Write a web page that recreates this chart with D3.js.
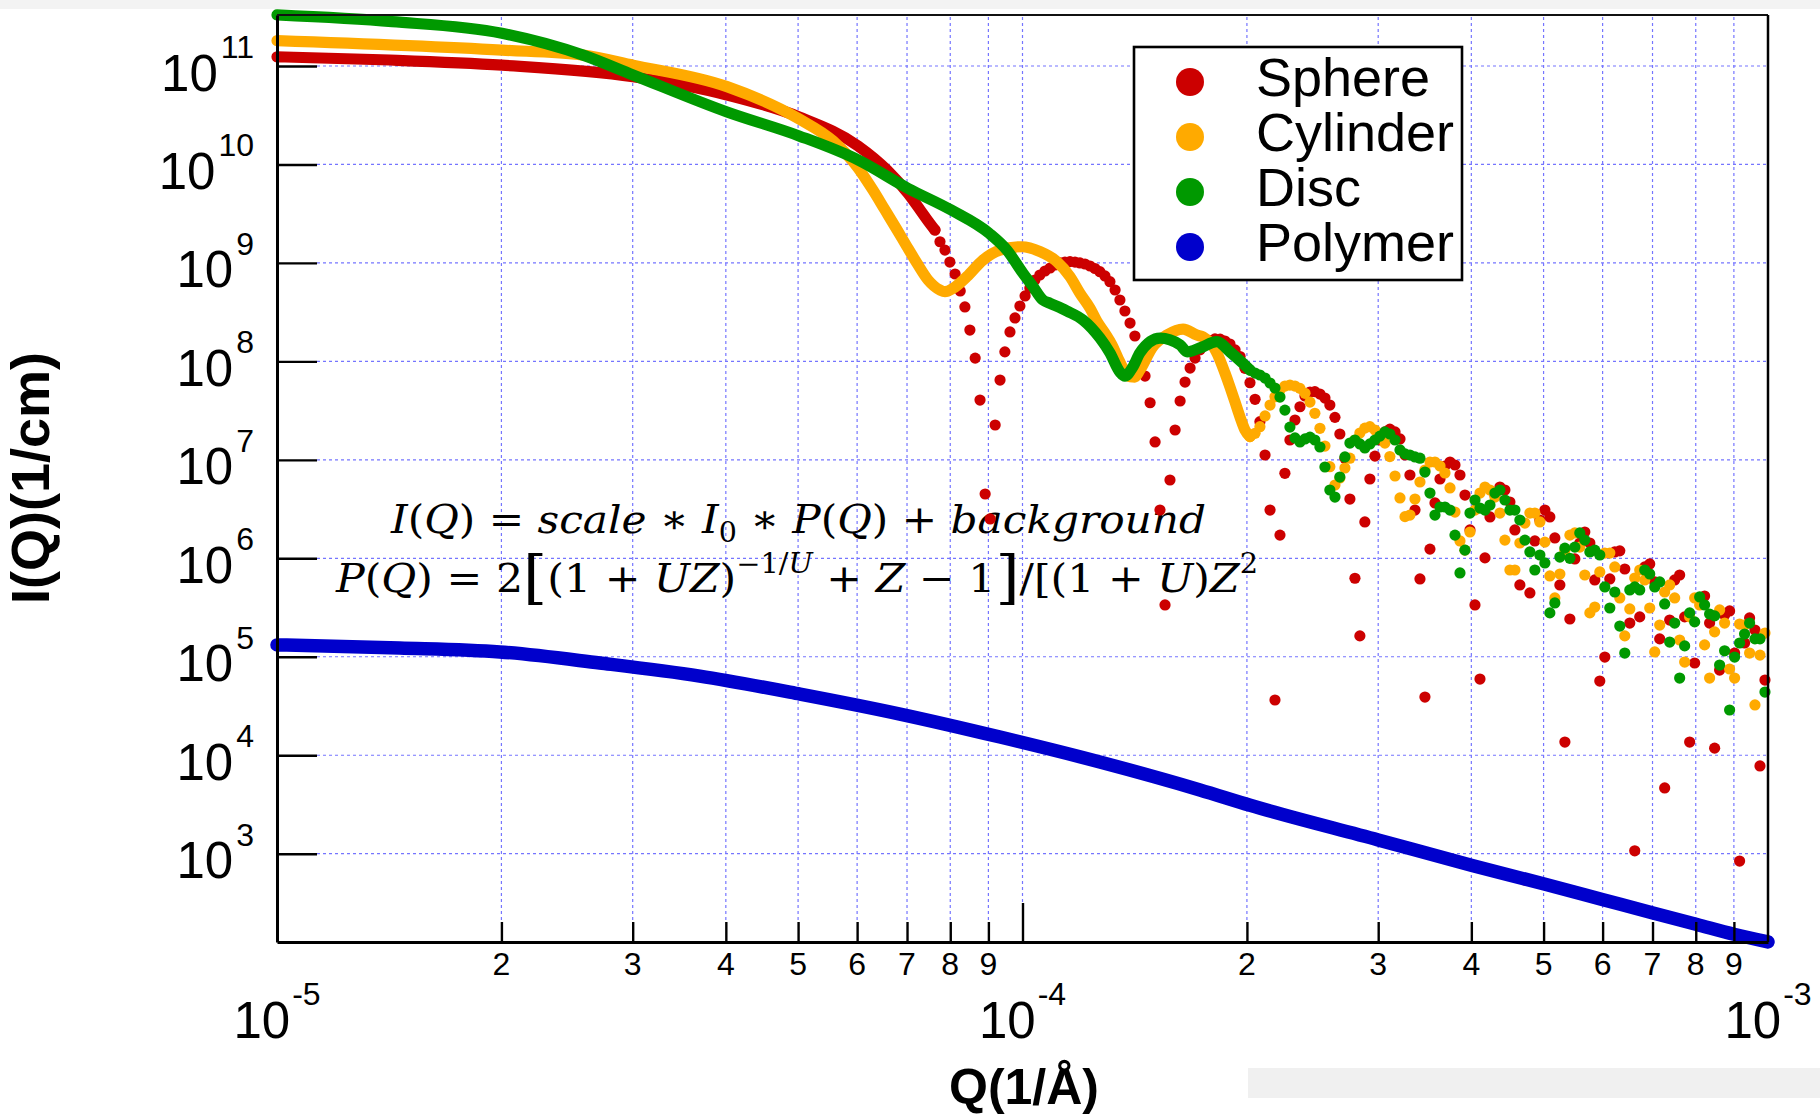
<!DOCTYPE html>
<html><head><meta charset="utf-8">
<script src="https://cdn.jsdelivr.net/npm/d3@7"></script>
<style>body{margin:0;background:#fff}text{font-family:"Liberation Sans",Arial,sans-serif}</style>
</head><body>
<script>
// ---------------- DATA ----------------
const seriesNames = ["Sphere", "Cylinder", "Disc", "Polymer"];
const seriesColors = ["#cc0000", "#ffaa00", "#009900", "#0000cc"];

const yTicks = [1e3, 1e4, 1e5, 1e6, 1e7, 1e8, 1e9, 1e10, 1e11];
const yTickSup = ["3", "4", "5", "6", "7", "8", "9", "10", "11"];
const xMajorTicks = [1e-5, 1e-4, 1e-3];
const xMajorSup = ["-5", "-4", "-3"];
const xMinorTicks = [2e-5,3e-5,4e-5,5e-5,6e-5,7e-5,8e-5,9e-5,2e-4,3e-4,4e-4,5e-4,6e-4,7e-4,8e-4,9e-4];
const xMinorLabels = ["2","3","4","5","6","7","8","9","2","3","4","5","6","7","8","9"];

// low-Q parts where the dots merge into a continuous band
const sphereCurveQ = [1e-5,1.418e-5,2.003e-5,3.003e-5,4.015e-5,5.015e-5,6.018e-5,6.58e-5,7.02e-5,7.29e-5,7.51e-5,7.63e-5];
const sphereCurveI = [1.24e11,1.15e11,1.02e11,7.79e10,5.08e10,3.04e10,1.54e10,8.78e9,5.09e9,3.45e9,2.52e9,2.16e9];

const cylinderCurveQ = [1e-5,2.003e-5,2.574e-5,3.003e-5,4.015e-5,5.015e-5,5.57e-5,6.02e-5,6.30e-5,6.54e-5,6.79e-5,7.00e-5,7.22e-5,7.47e-5,7.75e-5,7.87e-5,8.07e-5,8.42e-5,8.85e-5,9.33e-5,9.98e-5,1.056e-4,1.112e-4,1.158e-4,1.194e-4,1.232e-4,1.259e-4,1.290e-4,1.318e-4,1.343e-4,1.364e-4,1.394e-4,1.415e-4,1.437e-4,1.496e-4,1.562e-4,1.642e-4,1.714e-4,1.746e-4,1.823e-4,1.869e-4,1.898e-4,1.928e-4,1.958e-4,1.988e-4,2.019e-4];
const cylinderCurveI = [1.81e11,1.45e11,1.29e11,1.02e11,6.17e10,2.90e10,1.73e10,9.20e9,5.50e9,3.45e9,2.16e9,1.46e9,9.92e8,6.71e8,5.31e8,5.10e8,5.53e8,7.25e8,1.07e9,1.35e9,1.46e9,1.30e9,1.03e9,7.25e8,4.92e8,3.46e8,2.53e8,1.93e8,1.47e8,1.08e8,8.50e7,6.98e7,6.93e7,8.17e7,1.41e8,1.85e8,2.13e8,1.85e8,1.77e8,1.22e8,7.61e7,5.49e7,3.86e7,2.72e7,2.01e7,1.72e7];

const discCurveQ = [1e-5,1.427e-5,2.003e-5,2.574e-5,3.003e-5,4.015e-5,5.015e-5,6.02e-5,7.02e-5,8.02e-5,9.02e-5,9.53e-5,1.0015e-4,1.033e-4,1.065e-4,1.089e-4,1.147e-4,1.206e-4,1.27e-4,1.31e-4,1.351e-4,1.372e-4,1.406e-4,1.437e-4,1.529e-4,1.627e-4,1.663e-4,1.730e-4,1.823e-4,1.898e-4,1.976e-4,2.019e-4];
const discCurveI = [3.30e11,2.82e11,2.15e11,1.29e11,8.11e10,3.41e10,1.95e10,1.11e10,5.72e9,3.45e9,2.00e9,1.35e9,7.85e8,5.74e8,4.20e8,3.89e8,3.25e8,2.63e8,1.73e8,1.22e8,7.79e7,7.10e7,8.76e7,1.22e8,1.72e8,1.47e8,1.25e8,1.37e8,1.59e8,1.25e8,9.55e7,8.17e7];

const polymerQ = [1e-5,1.46e-5,1.99e-5,2.71e-5,3.69e-5,5.03e-5,6.85e-5,9.33e-5,1.27e-4,1.73e-4,2.02e-4,3.0e-4,4.01e-4,5.01e-4,6.01e-4,7.01e-4,8.03e-4,9.0e-4,1e-3];
const polymerI = [1.32e5,1.23e5,1.12e5,8.64e4,6.37e4,4.18e4,2.62e4,1.53e4,8.54e3,4.44e3,3.1e3,1.38e3,7.58e2,4.92e2,3.41e2,2.50e2,1.91e2,1.52e2,1.27e2];

// individual points (shared Q grid)
const qHigh = [7.63e-5,7.75e-5,7.87e-5,7.99e-5,8.12e-5,8.25e-5,8.37e-5,8.50e-5,8.64e-5,8.77e-5,
8.91e-5,9.05e-5,9.19e-5,9.33e-5,9.47e-5,9.62e-5,9.77e-5,9.92e-5,1.008e-4,1.023e-4,
1.039e-4,1.055e-4,1.072e-4,1.089e-4,1.106e-4,1.123e-4,1.140e-4,1.158e-4,1.176e-4,1.194e-4,
1.213e-4,1.232e-4,1.251e-4,1.270e-4,1.290e-4,1.310e-4,1.331e-4,1.351e-4,1.372e-4,1.394e-4,
1.415e-4,1.437e-4,1.460e-4,1.483e-4,1.506e-4,1.529e-4,1.553e-4,1.577e-4,1.602e-4,1.627e-4,
1.652e-4,1.678e-4,1.704e-4,1.730e-4,1.757e-4,1.785e-4,1.812e-4,1.841e-4,1.869e-4,1.898e-4,
1.928e-4,1.958e-4,1.988e-4,2.019e-4,2.051e-4,2.082e-4,2.115e-4,2.148e-4,2.181e-4,2.215e-4,
2.249e-4,2.284e-4,2.320e-4,2.356e-4,2.393e-4,2.430e-4,2.467e-4,2.506e-4,2.545e-4,2.584e-4,
2.625e-4,2.665e-4,2.707e-4,2.749e-4,2.792e-4,2.835e-4,2.879e-4,2.924e-4,2.970e-4,3.016e-4,
3.063e-4,3.110e-4,3.160e-4,3.209e-4,3.259e-4,3.309e-4,3.361e-4,3.413e-4,3.466e-4,3.520e-4,
3.575e-4,3.631e-4,3.687e-4,3.745e-4,3.803e-4,3.862e-4,3.922e-4,3.983e-4,4.045e-4,4.108e-4,
4.172e-4,4.237e-4,4.302e-4,4.369e-4,4.437e-4,4.506e-4,4.576e-4,4.647e-4,4.720e-4,4.793e-4,
4.867e-4,4.943e-4,5.020e-4,5.098e-4,5.177e-4,5.258e-4,5.340e-4,5.423e-4,5.507e-4,5.592e-4,
5.679e-4,5.768e-4,5.857e-4,5.948e-4,6.041e-4,6.135e-4,6.230e-4,6.327e-4,6.425e-4,6.525e-4,
6.626e-4,6.729e-4,6.834e-4,6.940e-4,7.048e-4,7.157e-4,7.268e-4,7.381e-4,7.496e-4,7.612e-4,
7.731e-4,7.851e-4,7.973e-4,8.097e-4,8.222e-4,8.350e-4,8.480e-4,8.612e-4,8.746e-4,8.882e-4,
9.020e-4,9.160e-4,9.302e-4,9.447e-4,9.605e-4,9.755e-4,9.907e-4];

const sphereHigh = [2.16e9,1.64e9,1.35e9,1.02e9,7.72e8,5.19e8,3.57e8,2.08e8,1.08e8,4.05e7,
4.50e6,2.51e6,2.26e7,6.46e7,1.25e8,1.99e8,2.76e8,3.65e8,4.62e8,5.57e8,
6.71e8,7.54e8,8.28e8,8.88e8,9.53e8,9.99e8,1.02e9,1.03e9,1.02e9,1.00e9,
9.75e8,9.31e8,8.78e8,8.15e8,7.37e8,6.45e8,5.31e8,4.20e8,3.25e8,2.45e8,
1.81e8,1.16e8,7.10e7,3.80e7,1.52e7,3.09e6,3.36e5,6.24e6,2.01e7,3.96e7,
6.17e7,8.56e7,1.08e8,1.31e8,1.50e8,1.63e8,1.69e8,1.68e8,1.61e8,1.50e8,
1.31e8,1.12e8,8.50e7,6.07e7,4.12e7,2.44e7,1.12e7,3.09e6,3.64e4,1.72e6,
7.30e6,1.59e7,2.54e7,3.46e7,4.45e7,4.88e7,4.92e7,4.66e7,4.24e7,3.60e7,
2.70e7,1.83e7,1.04e7,4.00e6,6.27e5,1.63e5,2.34e6,6.39e6,1.09e7,1.59e7,
1.92e7,2.05e7,1.92e7,1.63e7,1.12e7,7.02e6,3.09e6,6.17e5,3.90e4,1.24e6,
3.65e6,6.39e6,8.66e6,9.51e6,8.86e6,7.02e6,4.39e6,1.94e6,3.36e5,5.94e4,
1.01e6,2.63e6,4.39e6,5.30e6,4.94e6,3.73e6,1.94e6,5.36e5,5.40e2,4.45e5,
1.50e6,2.45e6,3.09e6,2.63e6,1.61e6,5.36e5,1.36e4,2.42e5,9.85e5,1.43e6,
1.85e6,1.43e6,6.03e5,5.67e4,9.94e4,6.17e5,1.16e6,1.19e6,7.79e5,2.20e5,
1.07e3,2.54e5,8.17e5,8.76e5,5.75e5,1.52e5,4.65e3,2.36e5,6.03e5,6.77e5,
2.54e5,1.36e4,8.64e4,3.78e5,4.14e5,2.20e5,1.18e4,7.33e4,2.66e5,2.92e5,
1.09e5,8.42e2,1.38e5,2.48e5,1.87e5,7.78e3,5.80e4];

const highStart = 63; // cylinder and disc points start at qHigh[63]
const cylinderHigh = [1.72e7,1.86e7,2.17e7,2.79e7,3.60e7,4.37e7,5.12e7,5.62e7,5.75e7,5.62e7,
5.32e7,4.74e7,3.86e7,2.97e7,2.09e7,1.38e7,8.52e6,5.55e6,6.54e6,8.26e6,
1.04e7,1.59e7,1.87e7,2.10e7,2.17e7,2.01e7,1.79e7,1.48e7,1.08e7,6.85e6,
4.10e6,2.65e6,2.75e6,4.00e6,5.96e6,7.88e6,9.51e6,9.51e6,8.66e6,7.35e6,
5.18e6,2.95e6,1.50e6,1.21e6,1.85e6,3.09e6,4.60e6,5.30e6,4.94e6,4.19e6,
2.88e6,1.53e6,7.61e5,7.61e5,1.43e6,2.28e6,2.88e6,2.88e6,2.34e6,1.46e6,
6.62e5,3.96e5,6.93e5,1.21e6,1.72e6,1.81e6,1.30e6,6.77e5,2.79e5,3.20e5,
7.27e5,1.13e6,1.13e6,8.17e5,3.96e5,1.63e5,3.06e5,6.31e5,7.61e5,6.03e5,
3.13e5,1.12e5,2.10e5,4.55e5,5.36e5,3.96e5,1.48e5,8.84e4,2.54e5,3.96e5,
3.36e5,1.32e5,6.08e4,1.79e5,2.99e5,2.20e5,7.51e4,6.08e4,2.15e5,2.10e5,
1.09e5,3.24e4,1.04e5,1.74e5];

const discHigh = [8.17e7,7.61e7,7.27e7,6.77e7,6.03e7,5.36e7,4.34e7,3.20e7,2.15e7,1.67e7,
1.52e7,1.63e7,1.70e7,1.59e7,1.35e7,8.46e6,4.94e6,4.19e6,6.69e6,1.07e7,
1.48e7,1.59e7,1.45e7,1.32e7,1.45e7,1.59e7,1.74e7,1.92e7,1.83e7,1.59e7,
1.26e7,1.15e7,1.12e7,1.07e7,1.04e7,7.52e6,4.60e6,2.75e6,3.32e6,3.32e6,
3.09e6,1.72e6,7.10e5,1.21e6,2.88e6,3.91e6,3.24e6,3.09e6,3.48e6,4.60e6,
4.94e6,3.91e6,3.09e6,3.09e6,2.45e6,1.53e6,1.16e6,7.61e5,1.08e6,8.97e5,
2.79e5,3.52e5,1.03e6,1.27e6,1.00e6,1.30e6,1.81e6,1.53e6,1.16e6,1.21e6,
1.08e6,5.12e5,3.13e5,4.55e5,2.05e5,1.09e5,4.77e5,5.12e5,4.77e5,7.61e5,
6.93e5,5.12e5,5.75e5,3.44e5,1.41e5,2.20e5,6.08e4,1.29e5,2.79e5,2.26e5,
4.05e5,3.36e5,2.72e5,2.60e5,8.24e4,1.15e5,2.88e4,9.94e4,1.38e5,1.70e5,
2.20e5,1.52e5,1.52e5,4.38e4];

// ---------------- CHART ----------------
const W = 1820, H = 1117;
const L = 277, R = 1768, T = 15, B = 942;
const svg = d3.select("body").append("svg").attr("width", W).attr("height", H);
svg.append("rect").attr("width", W).attr("height", H).attr("fill", "#fff");
svg.append("rect").attr("x", 0).attr("y", 0).attr("width", W).attr("height", 9).attr("fill", "#f3f3f3");
svg.append("rect").attr("x", 1248).attr("y", 1068).attr("width", W - 1248).attr("height", 30).attr("fill", "#f0f0f0");

const x = d3.scaleLog().domain([1e-5, 1e-3]).range([L, R]);
const y = d3.scaleLog().domain([126.8, 3.296e11]).range([B, T]);

// grid
const grid = svg.append("g").attr("stroke", "#7575ff").attr("stroke-width", 1.2).attr("stroke-dasharray", "3,3").attr("fill", "none");
yTicks.forEach(v => grid.append("line").attr("x1", L + 40).attr("x2", R).attr("y1", y(v)).attr("y2", y(v)));
xMinorTicks.concat([1e-4]).forEach(v => grid.append("line")
  .attr("x1", x(v)).attr("x2", x(v)).attr("y1", T + 2).attr("y2", v === 1e-4 ? B - 39 : B - 20));

// equation text
function mathText(px, py, len, parts) {
  const t = svg.append("text").attr("x", px).attr("y", py)
    .style("font-family", '"DejaVu Serif",serif')
    .attr("font-size", 40).attr("fill", "#000")
    .attr("textLength", len).attr("lengthAdjust", "spacingAndGlyphs")
    .attr("xml:space", "preserve");
  parts.forEach(p => {
    const s = t.append("tspan").text(p[0]);
    if (p[1] === "i") s.attr("font-style", "italic");
    if (p[2]) s.attr("dy", p[2]);
    if (p[3]) s.attr("font-size", p[3]);
  });
}
mathText(391, 533, 815, [
  ["I","i"],["("],["Q","i"],[") = "],["scale","i"],[" \u2217 "],["I","i"],["0","",9,27],[" \u2217 ","",-9],
  ["P","i"],["("],["Q","i"],[") + "],["background","i"]
]);
mathText(336, 592, 922, [
  ["P","i"],["("],["Q","i"],[") = 2"],["[","",5,58],["(1 + ","",-5],["UZ","i"],[")"],
  ["\u22121/","",-19,27],["U","i",0,27],[" + ","",19],["Z","i"],[" \u2212 1"],["]","",5,58],
  ["/[(1 + ","",-5],["U","i"],[")"],["Z","i"],["2","",-19,27]
]);

// series
const line = d3.line().x(d => x(d[0])).y(d => y(d[1])).curve(d3.curveMonotoneX);
const zip = (a, b) => a.map((v, i) => [v, b[i]]);
function drawSeries(curve, dots, color, lw) {
  const g = svg.append("g");
  g.append("path").datum(curve).attr("d", line).attr("fill", "none").attr("stroke", color)
    .attr("stroke-width", lw).attr("stroke-linecap", "round").attr("stroke-linejoin", "round");
  g.selectAll("circle").data(dots).join("circle")
    .attr("cx", d => x(d[0])).attr("cy", d => y(d[1])).attr("r", 5.6).attr("fill", color);
}
drawSeries(zip(sphereCurveQ, sphereCurveI), zip(qHigh, sphereHigh), seriesColors[0], 11.2);
drawSeries(zip(cylinderCurveQ, cylinderCurveI), zip(qHigh.slice(highStart), cylinderHigh), seriesColors[1], 11.2);
drawSeries(zip(discCurveQ, discCurveI), zip(qHigh.slice(highStart), discHigh), seriesColors[2], 11.2);
drawSeries(zip(polymerQ, polymerI), [], seriesColors[3], 13.5);

// axes
const yAxis = svg.append("g").attr("transform", `translate(${L},0)`)
  .call(d3.axisLeft(y).tickValues(yTicks).tickSize(-40).tickSizeOuter(0).tickFormat(""));
const xAxis = svg.append("g").attr("transform", `translate(0,${B})`)
  .call(d3.axisBottom(x).tickValues(xMinorTicks).tickSize(-20).tickSizeOuter(0).tickFormat(""));
const xAxisMaj = svg.append("g").attr("transform", `translate(0,${B})`)
  .call(d3.axisBottom(x).tickValues([1e-4]).tickSize(-39).tickSizeOuter(0).tickFormat(""));
xAxisMaj.select(".domain").remove();
[yAxis, xAxis, xAxisMaj].forEach(a => {
  a.selectAll(".tick line").attr("stroke", "#000").attr("stroke-width", 2.4);
  a.select(".domain").attr("stroke", "#000").attr("stroke-width", 3);
});
// top / right frame
svg.append("line").attr("x1", L).attr("x2", R).attr("y1", T).attr("y2", T).attr("stroke", "#111").attr("stroke-width", 2);
svg.append("line").attr("x1", R).attr("x2", R).attr("y1", T).attr("y2", B).attr("stroke", "#000").attr("stroke-width", 2.5);

// tick labels
yTicks.forEach((v, i) => {
  const t = svg.append("text").attr("x", 254).attr("y", y(v) + 24.5).attr("text-anchor", "end")
    .attr("font-size", 51).attr("fill", "#000");
  t.append("tspan").text("10");
  t.append("tspan").attr("font-size", 32).attr("dy", -32.5).attr("dx", 3).text(yTickSup[i]);
});
xMinorTicks.forEach((v, i) => {
  svg.append("text").attr("x", x(v)).attr("y", 975).attr("text-anchor", "middle")
    .attr("font-size", 32).attr("fill", "#000").text(xMinorLabels[i]);
});
xMajorTicks.forEach((v, i) => {
  const t = svg.append("text").attr("x", x(v)).attr("y", 1038).attr("text-anchor", "middle")
    .attr("font-size", 51).attr("fill", "#000");
  t.append("tspan").text("10");
  t.append("tspan").attr("font-size", 32).attr("dy", -33).attr("dx", 2).text(xMajorSup[i]);
});

// axis titles
svg.append("text").attr("x", 1024).attr("y", 1104).attr("text-anchor", "middle")
  .attr("font-size", 50).attr("font-weight", "bold").attr("fill", "#000").text("Q(1/\u00C5)");
svg.append("text").attr("transform", "translate(49,478) rotate(-90)").attr("text-anchor", "middle")
  .attr("font-size", 54).attr("font-weight", "bold").attr("fill", "#000").text("I(Q)(1/cm)");

// legend
const lg = svg.append("g");
lg.append("rect").attr("x", 1134).attr("y", 47).attr("width", 328).attr("height", 233)
  .attr("fill", "#fff").attr("stroke", "#000").attr("stroke-width", 2.6);
seriesNames.forEach((n, i) => {
  lg.append("circle").attr("cx", 1190).attr("cy", 82 + 55 * i).attr("r", 14).attr("fill", seriesColors[i]);
  lg.append("text").attr("x", 1256).attr("y", 96 + 55 * i).attr("font-size", 54).attr("fill", "#000").text(n);
});
</script>
</body></html>
